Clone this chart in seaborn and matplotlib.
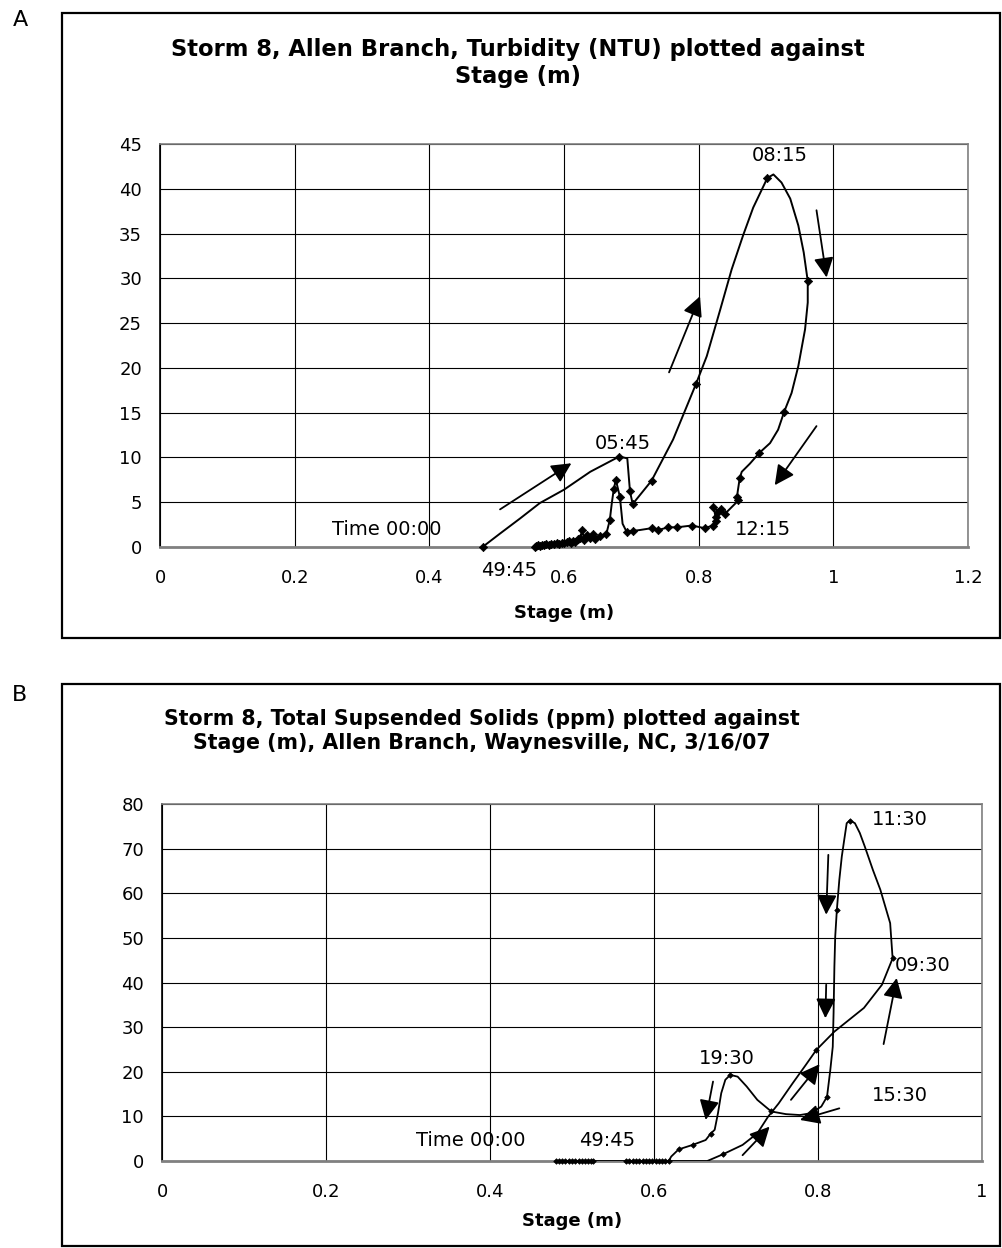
import numpy as np
import pandas as pd
import matplotlib
matplotlib.use("Agg")
import matplotlib.pyplot as plt
import seaborn as sns
from matplotlib.patches import Rectangle

# ---------------- Panel A data: Turbidity (NTU) vs Stage (m) ----------------
stage_a = [0.479, 0.505, 0.535, 0.564, 0.600, 0.639, 0.682, 0.694, 0.698, 0.702,
           0.730, 0.762, 0.796, 0.812, 0.832, 0.849, 0.866, 0.881, 0.902, 0.911,
           0.923, 0.936, 0.948, 0.956, 0.962, 0.962, 0.958, 0.948, 0.938, 0.927,
           0.918, 0.906, 0.890, 0.876, 0.864, 0.861, 0.858, 0.857, 0.859, 0.847,
           0.839, 0.833, 0.829, 0.822, 0.825, 0.826, 0.821, 0.809, 0.790, 0.768,
           0.755, 0.740, 0.730, 0.713, 0.703, 0.693, 0.687, 0.683, 0.677, 0.674,
           0.671, 0.668, 0.663, 0.653, 0.646, 0.643, 0.638, 0.634, 0.630, 0.627,
           0.624, 0.621, 0.617, 0.614, 0.610, 0.607, 0.604, 0.600, 0.597, 0.593,
           0.589, 0.585, 0.580, 0.577, 0.574, 0.571, 0.568, 0.564, 0.561, 0.558,
           0.557]
turb_a = [0.0, 1.5, 3.2, 4.9, 6.4, 8.4, 10.1, 9.9, 6.2, 4.8,
          7.4, 12.0, 18.2, 21.3, 26.5, 31.0, 34.8, 37.9, 41.2, 41.6,
          40.7, 38.9, 35.9, 32.9, 29.7, 27.3, 24.3, 20.2, 17.2, 15.1,
          13.1, 11.6, 10.5, 9.3, 8.4, 7.7, 6.2, 5.6, 5.2, 4.3,
          3.7, 4.2, 3.9, 4.5, 3.4, 2.9, 2.4, 2.1, 2.4, 2.2,
          2.2, 1.9, 2.1, 1.9, 1.8, 1.7, 2.6, 5.6, 7.5, 6.5,
          4.9, 3.0, 1.5, 1.2, 0.9, 1.5, 1.0, 1.3, 0.8, 1.9,
          1.0, 0.9, 0.6, 0.7, 0.5, 0.7, 0.6, 0.4, 0.5, 0.3,
          0.4, 0.3, 0.3, 0.2, 0.3, 0.2, 0.2, 0.1, 0.2, 0.1,
          0.0]
marker_a = [1, 0, 0, 0, 0, 0, 1, 0, 1, 1,
            1, 0, 1, 0, 0, 0, 0, 0, 1, 0,
            0, 0, 0, 0, 1, 0, 0, 0, 0, 1,
            0, 0, 1, 0, 0, 1, 0, 1, 1, 0,
            1, 1, 1, 1, 1, 1, 1, 1, 1, 1,
            1, 1, 1, 0, 1, 1, 0, 1, 1, 1,
            0, 1, 1, 1, 1, 1, 1, 1, 1, 1,
            1, 1, 1, 1, 1, 1, 1, 1, 1, 1,
            1, 1, 1, 1, 1, 1, 1, 1, 1, 1,
            1]

# arrows (start x, start y, end x, end y)
arrows_a = [(0.505, 4.2, 0.611, 9.35),
            (0.756, 19.5, 0.802, 28.0),
            (0.975, 37.6, 0.990, 30.1),
            (0.975, 13.5, 0.913, 6.9)]
labels_a = [("08:15", 0.921, 43.7), ("05:45", 0.687, 11.6), ("12:15", 0.896, 1.9),
            ("Time 00:00", 0.337, 1.9), ("49:45", 0.518, -2.6)]
xticks_a = [0, 0.2, 0.4, 0.6, 0.8, 1.0, 1.2]
xticklabels_a = ["0", "0.2", "0.4", "0.6", "0.8", "1", "1.2"]
yticks_a = [0, 5, 10, 15, 20, 25, 30, 35, 40, 45]

# ---------------- Panel B data: TSS (ppm) vs Stage (m) ----------------
stage_b = [0.480, 0.484, 0.488, 0.492, 0.496, 0.500, 0.504, 0.508, 0.512, 0.516,
           0.520, 0.523, 0.526, 0.600, 0.665, 0.684,
           0.708, 0.726, 0.739, 0.752, 0.769, 0.785, 0.798, 0.820, 0.856, 0.878,
           0.891, 0.888, 0.876, 0.867, 0.857, 0.851, 0.845, 0.839, 0.835, 0.832,
           0.829, 0.826, 0.823, 0.821, 0.820, 0.819, 0.818, 0.815, 0.811, 0.804,
           0.791, 0.778, 0.761, 0.743, 0.726, 0.713, 0.702, 0.693, 0.687, 0.682,
           0.678, 0.674, 0.669, 0.663, 0.647, 0.630, 0.621, 0.618, 0.614, 0.610,
           0.606, 0.602, 0.598, 0.594, 0.590, 0.586, 0.582, 0.578, 0.574, 0.570,
           0.566]
tss_b = [0.0, 0.0, 0.0, 0.0, 0.0, 0.0, 0.0, 0.0, 0.0, 0.0,
         0.0, 0.0, 0.0, 0.0, 0.0, 1.5,
         3.6, 6.2, 9.9, 12.9, 17.4, 21.5, 24.9, 29.0, 34.3, 39.5,
         45.4, 53.3, 60.8, 65.2, 70.5, 73.5, 75.7, 76.3, 75.7, 72.0,
         68.2, 63.0, 56.3, 50.3, 43.6, 33.2, 25.6, 20.4, 14.4, 12.2,
         10.7, 10.3, 10.5, 11.1, 13.7, 16.7, 18.9, 19.3, 18.2, 15.2,
         10.7, 7.0, 6.1, 4.7, 3.6, 2.6, 1.0, 0.0, 0.0, 0.0,
         0.0, 0.0, 0.0, 0.0, 0.0, 0.0, 0.0, 0.0, 0.0, 0.0,
         0.0]
marker_b = [1, 1, 1, 1, 1, 1, 1, 1, 1, 1,
            1, 1, 1, 0, 0, 1,
            0, 0, 0, 0, 0, 0, 1, 0, 0, 0,
            1, 0, 0, 0, 0, 0, 0, 1, 0, 0,
            0, 0, 1, 0, 0, 0, 0, 0, 1, 0,
            0, 0, 0, 1, 0, 0, 0, 1, 0, 0,
            0, 0, 1, 0, 1, 1, 0, 1, 1, 1,
            1, 1, 1, 1, 1, 1, 1, 1, 1, 1,
            1]
arrows_b = [(0.708, 1.3, 0.741, 7.7),
            (0.767, 13.7, 0.802, 21.7),
            (0.880, 26.2, 0.896, 41.0),
            (0.8126, 68.6, 0.810, 55.2),
            (0.810, 39.5, 0.809, 32.0),
            (0.826, 11.8, 0.778, 9.2),
            (0.672, 17.8, 0.663, 9.2)]
labels_b = [("11:30", 0.900, 76.5), ("09:30", 0.927, 43.8), ("19:30", 0.689, 22.9),
            ("15:30", 0.900, 14.6), ("Time 00:00", 0.377, 4.7), ("49:45", 0.543, 4.7)]
xticks_b = [0, 0.2, 0.4, 0.6, 0.8, 1.0]
xticklabels_b = ["0", "0.2", "0.4", "0.6", "0.8", "1"]
yticks_b = [0, 10, 20, 30, 40, 50, 60, 70, 80]

title_a = "Storm 8, Allen Branch, Turbidity (NTU) plotted against\nStage (m)"
title_b = "Storm 8, Total Supsended Solids (ppm) plotted against\nStage (m), Allen Branch, Waynesville, NC, 3/16/07"

# ---------------- figure ----------------
sns.set_theme(style="white")
plt.rcParams["font.family"] = ["DejaVu Sans"]
plt.rcParams["text.color"] = "black"
plt.rcParams["xtick.color"] = "black"
plt.rcParams["ytick.color"] = "black"
plt.rcParams["axes.labelcolor"] = "black"

W, H = 1002, 1248
fig = plt.figure(figsize=(W / 100, H / 100), dpi=100)
fig.patch.set_facecolor("white")


def fx(px):
    return px / W


def fy(py):
    return 1 - py / H


# chart-area boxes
for (x0, y0, x1, y1) in [(62, 13, 1000, 638), (62, 684, 1000, 1246)]:
    fig.patches.append(Rectangle((fx(x0), fy(y1)), fx(x1) - fx(x0), fy(y0) - fy(y1),
                                 transform=fig.transFigure, fill=False,
                                 edgecolor="black", linewidth=1.6))

fig.text(fx(20), fy(20), "A", fontsize=16, ha="center", va="center")
fig.text(fx(20), fy(695), "B", fontsize=16, ha="center", va="center")

fig.text(fx(518), fy(63), title_a, fontsize=16.3, fontweight="bold",
         ha="center", va="center", linespacing=1.2)
fig.text(fx(482), fy(731), title_b, fontsize=14.8, fontweight="bold",
         ha="center", va="center", linespacing=1.2)

axA = fig.add_axes([fx(160), fy(547), fx(968) - fx(160), fy(144) - fy(547)])
axB = fig.add_axes([fx(162), fy(1161), fx(982) - fx(162), fy(804) - fy(1161)])


def style_axis(ax, xt, xtl, yt, xlim, ylim, lpad):
    ax.set_xlim(*xlim)
    ax.set_ylim(*ylim)
    ax.set_xticks(xt)
    ax.set_xticklabels(xtl)
    ax.set_yticks(yt)
    ax.grid(True, color="black", linewidth=0.8)
    ax.set_axisbelow(True)
    for s in ["top", "right"]:
        ax.spines[s].set_color("#808080")
        ax.spines[s].set_linewidth(1.2)
    ax.spines["left"].set_color("black")
    ax.spines["left"].set_linewidth(1.2)
    ax.spines["bottom"].set_color("#808080")
    ax.spines["bottom"].set_linewidth(2.0)
    ax.tick_params(axis="x", which="major", direction="out", length=6,
                   width=1, color="black", labelsize=13, pad=10)
    ax.tick_params(axis="y", which="major", direction="out", length=6,
                   width=1, color="black", labelsize=13, pad=7)
    ax.set_xlabel("Stage (m)", fontsize=13, fontweight="bold", labelpad=lpad)
    ax.set_ylabel("")


def draw_panel(ax, xs, ys, mk, arrows, labels, msize, lw):
    df = pd.DataFrame({"x": xs, "y": ys, "m": mk})
    sns.lineplot(data=df, x="x", y="y", sort=False, estimator=None, ax=ax,
                 color="black", linewidth=lw, zorder=3)
    dm = df[df["m"] == 1]
    sns.scatterplot(data=dm, x="x", y="y", ax=ax, marker="D", s=msize,
                    color="black", edgecolor="black", linewidth=0.5, zorder=4,
                    clip_on=False)
    for (x0, y0, x1, y1) in arrows:
        ax.annotate("", xy=(x1, y1), xytext=(x0, y0),
                    arrowprops=dict(arrowstyle="-|>,head_length=0.6,head_width=0.3",
                                    color="black", lw=1.3,
                                    mutation_scale=20, shrinkA=0, shrinkB=0),
                    zorder=5)
    for (t, x, y) in labels:
        ax.text(x, y, t, fontsize=14, ha="center", va="center", clip_on=False,
                zorder=6)


draw_panel(axA, stage_a, turb_a, marker_a, arrows_a, labels_a, 18, 1.4)
style_axis(axA, xticks_a, xticklabels_a, yticks_a, (0, 1.2), (0, 45), 12)

draw_panel(axB, stage_b, tss_b, marker_b, arrows_b, labels_b, 8, 1.3)
style_axis(axB, xticks_b, xticklabels_b, yticks_b, (0, 1.0), (0, 80), 8)

fig.savefig("out.png", dpi=100, facecolor="white")
